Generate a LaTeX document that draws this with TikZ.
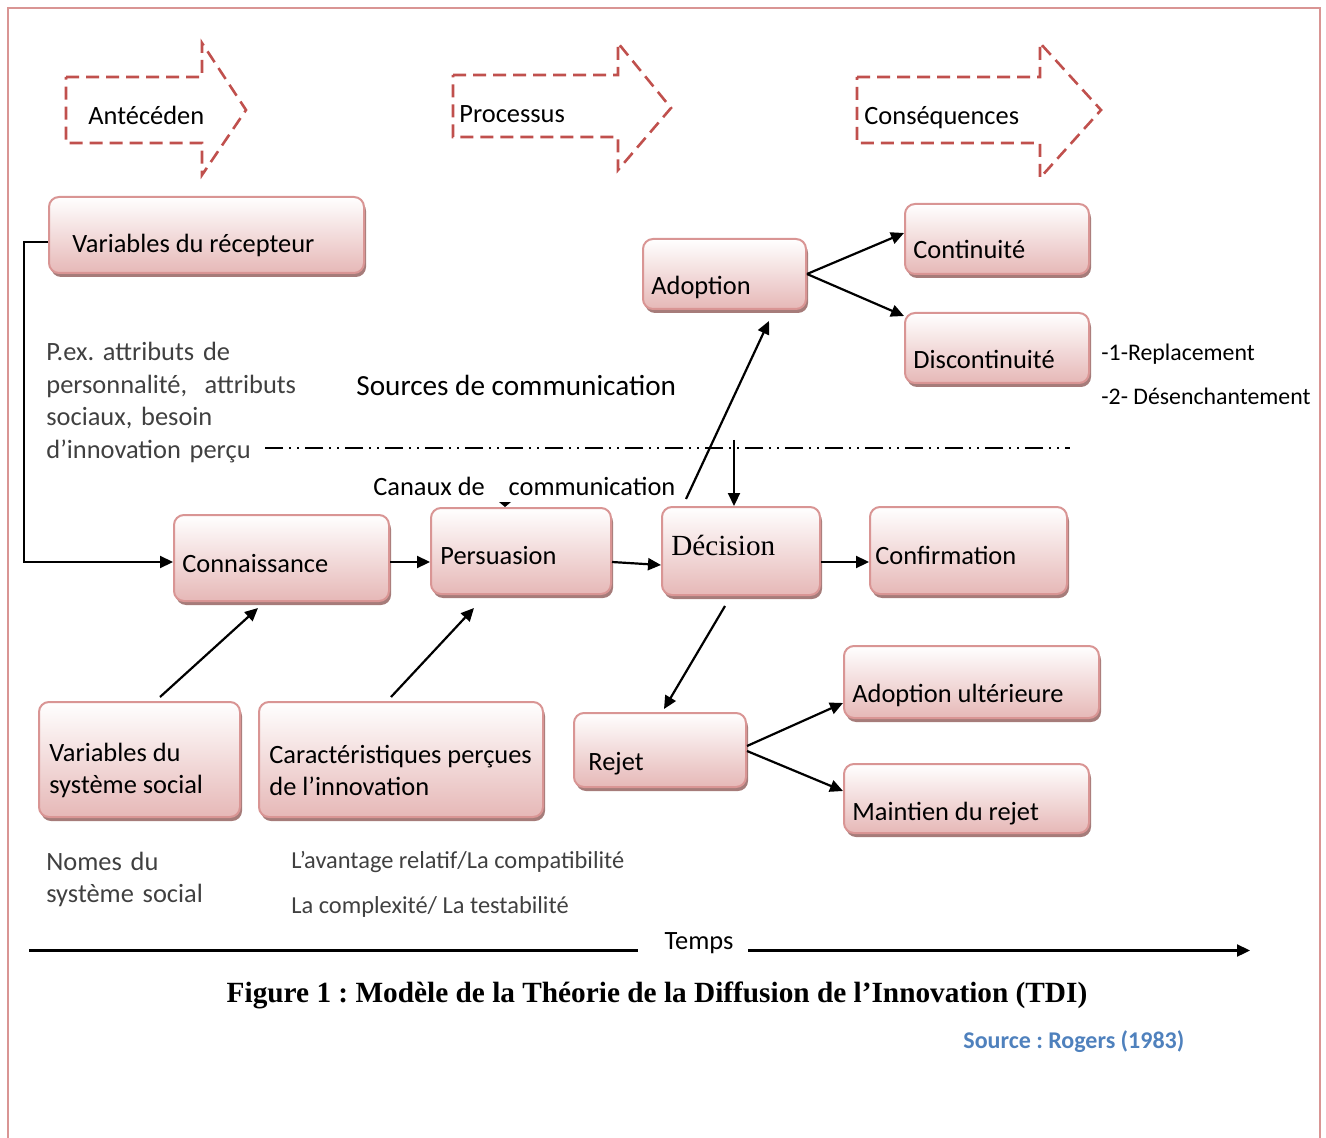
\documentclass[tikz,border=0pt]{standalone}
\usepackage{fontspec}
\setmainfont{Carlito}
\newfontfamily\timesfont{Liberation Serif}
\usetikzlibrary{arrows.meta,shadows,calc}
\frenchspacing

\definecolor{framecol}{RGB}{217,149,148}
\definecolor{dashred}{RGB}{192,80,77}
\definecolor{boxedge}{RGB}{217,149,148}
\definecolor{boxfill}{RGB}{230,184,183}
\definecolor{shadowcol}{RGB}{166,124,122}
\definecolor{greytext}{RGB}{64,64,64}
\definecolor{sourceblue}{RGB}{79,129,189}

\begin{document}
\begin{tikzpicture}[x=0.5pt,y=-0.5pt,
    box/.style={rectangle,rounded corners=5pt,draw=boxedge,line width=1pt,
      top color=white,bottom color=boxfill,inner sep=0pt,
      drop shadow={shadow xshift=1pt,shadow yshift=-2pt,fill=shadowcol,opacity=1}},
    lbl/.style={inner sep=0pt,font=\fontsize{13.2}{16.25}\selectfont,text height=0.75em,text depth=0.25em},
    lbltwo/.style={inner sep=0pt,font=\fontsize{13.2}{16.25}\selectfont,align=left},
    note/.style={inner sep=0pt,font=\fontsize{13.2}{16.25}\selectfont,text=greytext,align=left},
    small/.style={inner sep=0pt,font=\fontsize{11.9}{14}\selectfont},
    bigarrow/.style={draw=dashred,line width=1.3pt,dash pattern=on 6.5pt off 3.5pt},
    arrow/.style={line width=1.1pt,-{Triangle[length=6.5pt,width=6pt]}},
    link/.style={line width=1.1pt}]

  \useasboundingbox (0,0) rectangle (1326,1138);

  % frame
  \draw[framecol,line width=1pt] (8,1138) -- (8,8) -- (1320,8) -- (1320,1138);

  % dashed block arrows
  \foreach \name/\xa/\ya/\yb/\xh/\yha/\yhb/\xt/\yt/\tx/\txt in {
      ante/66/77/143/202/43/175/246/110/88/{Antécéden},
      proc/453/75/137/618/43/170/671/108/459/{Processus},
      cons/857/77/143/1040/43/178/1101/110/864/{Conséquences}}{
    \draw[bigarrow] (\xa,\ya) -- (\xh,\ya) -- (\xh,\yha) -- (\xt,\yt)
      -- (\xh,\yhb) -- (\xh,\yb) -- (\xa,\yb) -- cycle;
    \node[lbl,anchor=west] (\name) at (\tx,\yt+10) {\txt};
  }

  % single-line boxes
  \foreach \name/\cx/\cy/\w/\h/\px/\dy/\txt in {
      recept/206.5/235/315/76/24/13/{Variables du récepteur},
      adop/724.5/274/163/70/9/16/{Adoption},
      cont/997/239/184/70/9/15/{Continuité},
      disc/997/348/184/70/9/16/{Discontinuité},
      conn/281.5/558/215/86/9/9/{Connaissance},
      pers/521/551/180/86/10/8/{Persuasion},
      conf/968.5/550.5/197/87/6/8.5/{Confirmation},
      adult/971.5/682/255/72/9/15/{Adoption ultérieure},
      rejet/660/750/172/74/15/15/{Rejet},
      maint/966.5/798.5/245/69/9/16.5/{Maintien du rejet}}{
    \node[box,minimum width=\w*0.5pt,minimum height=\h*0.5pt] (\name) at (\cx,\cy) {};
    \node[lbl,anchor=west] (\name-t) at ($(\name.west)+(\px,\dy)$) {\txt};
  }

  % two-line boxes
  \foreach \name/\cx/\w/\txt in {
      varsys/139.5/201/{Variables du\\système social},
      caract/401/284/{Caractéristiques perçues\\de l’innovation}}{
    \node[box,minimum width=\w*0.5pt,minimum height=57.5pt] (\name) at (\cx,759.5) {};
    \node[lbltwo,anchor=west] (\name-t) at ($(\name.west)+(11,11)$) {\txt};
  }

  \node[box,minimum width=79pt,minimum height=44pt] (dec) at (741,551) {};
  \node[inner sep=0pt,font=\timesfont\fontsize{14.6}{17}\selectfont,anchor=west]
    (dec-t) at ($(dec.west)+(10,-6)$) {Décision};

  % free texts
  \node[note,anchor=base west,text width=140pt] (pex) at (46,361)
    {P.ex. attributs de\\personnalité,\ \ attributs\\sociaux, besoin\\d’innovation perçu};
  \node[inner sep=0pt,font=\fontsize{14.6}{17}\selectfont,anchor=base west] (sources) at (356,396)
    {Sources de communication};
  \node[lbl,anchor=base west,text height=,text depth=] (canaux) at (373,495)
    {Canaux de\hspace{0.9em}communication};
  \node[small,anchor=base west] (repl) at (1101,361) {-1-Replacement};
  \node[small,anchor=base west] (desen) at (1101,405) {-2- Désenchantement};
  \node[note,anchor=base west,text width=110pt] (nomes) at (46,870) {Nomes du\\système social};
  \node[small,font=\fontsize{12.2}{14}\selectfont,text=greytext,anchor=base west] (avant) at (291,868)
    {L’avantage relatif/La compatibilité};
  \node[small,font=\fontsize{12.2}{14}\selectfont,text=greytext,anchor=base west] (compl) at (291,913)
    {La complexité/ La testabilité};

  % dash-dot line
  \coordinate (dd0) at (265,448);
  \coordinate (dd1) at (1070,448);
  \draw[line width=1pt,dash pattern=on 9pt off 3pt on 1pt off 3pt on 1pt off 3pt] (dd0) -- (dd1);
  \coordinate (src) at (734,440);
  \fill (499,502) -- (511,502) -- (505,507) -- cycle;

  % connectors
  \draw[arrow] ($(recept.west)+(0,7)$) -- ++(-24,0) |- ($(conn.west)+(0,4)$);
  \draw[arrow] (adop.east) -- ($(cont.west)+(0,-6)$);
  \draw[arrow] (adop.east) -- ($(disc.west)+(0,-32)$);
  \draw[arrow] ($(conn.east)+(0,4)$) -- ($(pers.west)+(0,11)$);
  \draw[arrow] ($(pers.east)+(0,11)$) -- ($(dec.west)+(0,14)$);
  \draw[arrow] ($(dec.east)+(0,11)$) -- ($(conf.west)+(0,11.5)$);
  \draw[arrow] ($(dec.north)+(-55,-7)$) -- ($(adop.south)+(44.5,11)$);
  \draw[arrow] (src) -- (src |- dec.north);
  \draw[arrow] ($(dec.south)+(-16,10)$) -- ($(rejet.north)+(4,-3)$);
  \draw[arrow] ($(rejet.east)+(0,-4)$) -- ($(adult.west)+(0,21)$);
  \draw[arrow] ($(rejet.east)+(0,1)$) -- ($(maint.west)+(0,-7.5)$);
  \draw[arrow] ($(varsys.north)+(20.5,-4)$) -- ($(conn.south)+(-23.5,6)$);
  \draw[arrow] ($(caract.north)+(-10,-4)$) -- ($(pers.south)+(-47,13)$);

  % time axis
  \node[lbl] (temps) at (699,944) {Temps};
  \coordinate (t0) at (29,950.5);
  \coordinate (t0e) at (638,950.5);
  \coordinate (t1s) at (748,950.5);
  \coordinate (t1) at (1250,950.5);
  \draw[link] (t0) -- (t0e);
  \draw[arrow] (t1s) -- (t1);

  % caption
  \node[inner sep=0pt,font=\timesfont\bfseries\fontsize{14.65}{17}\selectfont,anchor=base] (caption) at (657,1002)
    {Figure 1 : Modèle de la Théorie de la Diffusion de l’Innovation (TDI)};
  \node[inner sep=0pt,font=\bfseries\fontsize{12}{14}\selectfont,text=sourceblue,anchor=base west] (source) at (963,1048)
    {Source : Rogers (1983)};
\end{tikzpicture}
\end{document}
